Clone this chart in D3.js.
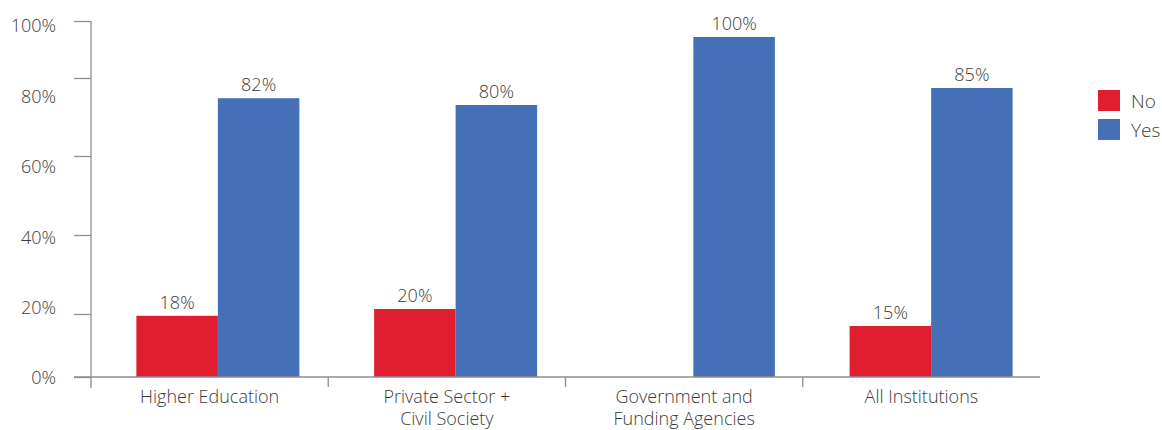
<!DOCTYPE html>
<html>
<head>
<meta charset="utf-8">
<script src="https://cdn.jsdelivr.net/npm/d3@7"></script>
<style>
  html, body { margin: 0; padding: 0; background: #fff; }
  svg { display: block; font-family: "Open Sans", "Noto Sans", sans-serif; font-weight: 300; }
  text { fill: #3c3c3c; }
</style>
</head>
<body>
<svg id="chart" width="1162" height="430"></svg>
<script>
// Survey responses by institution type (percent)
const categories = [
  ["Higher Education"],
  ["Private Sector +", "Civil Society"],
  ["Government and", "Funding Agencies"],
  ["All Institutions"]
];
const seriesNames = ["No", "Yes"];
const noValues  = [18, 20, null, 15];
const yesValues = [82, 80, 100, 85];
const tickValues = [0, 20, 40, 60, 80, 100];

const colors = { No: "#e01e2f", Yes: "#4570b8" };
const axisColor = "#8e8e8e";

const svg = d3.select("#chart");
const catKeys = categories.map(c => c.join(" "));

// Bar heights
const yBar = d3.scaleLinear().domain([0, 100]).range([377, 37]);
// Axis tick marks and their labels
const yTick = d3.scaleLinear().domain(tickValues).range([377, 314, 235, 156, 78, 21]);
const yLabel = d3.scaleLinear().domain([0, 100]).range([378, 26]);

// Groups of bars and category labels
const xGroup = d3.scaleBand().domain(catKeys).range([99, 1050]);
const xAxisBand = d3.scaleBand().domain(catKeys).range([91, 1040]);
const xSub = d3.scaleBand().domain(seriesNames).range([0, 163]);

const rows = catKeys.map((k, i) => ({
  key: k,
  values: [
    { name: "No", value: noValues[i] },
    { name: "Yes", value: yesValues[i] }
  ].filter(d => d.value !== null)
}));

// Bars
const groupOffset = (xGroup.bandwidth() - 163) / 2;
const groups = svg.append("g").selectAll("g").data(rows).join("g")
  .attr("transform", d => `translate(${xGroup(d.key) + groupOffset},0)`);

groups.selectAll("rect").data(d => d.values).join("rect")
  .attr("x", d => xSub(d.name))
  .attr("y", d => yBar(d.value))
  .attr("width", xSub.bandwidth())
  .attr("height", d => yBar(0) - yBar(d.value))
  .attr("fill", d => colors[d.name]);

groups.selectAll("text.val").data(d => d.values).join("text")
  .attr("class", "val")
  .attr("x", d => xSub(d.name) + xSub.bandwidth() / 2)
  .attr("y", d => yBar(d.value) - 7)
  .attr("text-anchor", "middle")
  .attr("font-size", 18)
  .text(d => d.value + "%");

// Y axis: tick marks
const yAxis = d3.axisLeft(yTick).tickValues(tickValues).tickSize(17).tickSizeOuter(0).tickFormat("");
const gy = svg.append("g").attr("transform", "translate(91,0)").call(yAxis);
gy.select(".domain").remove();
gy.selectAll(".tick line").attr("stroke", axisColor).attr("stroke-width", 1.3);
gy.append("line")
  .attr("x1", 0).attr("x2", 0)
  .attr("y1", yTick(100)).attr("y2", yBar(0) + 11)
  .attr("stroke", axisColor).attr("stroke-width", 1.3);

// Y axis labels
svg.append("g").selectAll("text").data(tickValues).join("text")
  .attr("x", 56)
  .attr("y", d => yLabel(d))
  .attr("dy", "0.35em")
  .attr("text-anchor", "end")
  .attr("font-size", 18)
  .text(d => d + "%");

// X axis baseline and category separators
svg.append("line")
  .attr("x1", 74).attr("x2", xAxisBand.range()[1])
  .attr("y1", yBar(0)).attr("y2", yBar(0))
  .attr("stroke", axisColor).attr("stroke-width", 1.5);

svg.append("g").selectAll("line").data(catKeys.slice(1)).join("line")
  .attr("x1", d => xAxisBand(d)).attr("x2", d => xAxisBand(d))
  .attr("y1", yBar(0)).attr("y2", yBar(0) + 10)
  .attr("stroke", axisColor).attr("stroke-width", 1.3);

// Category labels
const catText = svg.append("g").selectAll("text").data(categories).join("text")
  .attr("text-anchor", "middle")
  .attr("font-size", 18)
  .attr("transform", (d, i) => `translate(${xAxisBand(catKeys[i]) + xAxisBand.bandwidth() / 2},${yBar(0) + 26})`);
catText.selectAll("tspan").data(d => d).join("tspan")
  .attr("x", 0)
  .attr("dy", (d, i) => i === 0 ? 0 : 22)
  .text(d => d);

// Legend
const legend = svg.append("g").attr("transform", "translate(1098,90)");
const li = legend.selectAll("g").data(seriesNames).join("g")
  .attr("transform", (d, i) => `translate(0,${i * 29})`);
li.append("rect").attr("width", 22).attr("height", 21).attr("fill", d => colors[d]);
li.append("text").attr("x", 33).attr("y", 11).attr("dy", "0.35em")
  .attr("font-size", 19).text(d => d);
</script>
</body>
</html>
